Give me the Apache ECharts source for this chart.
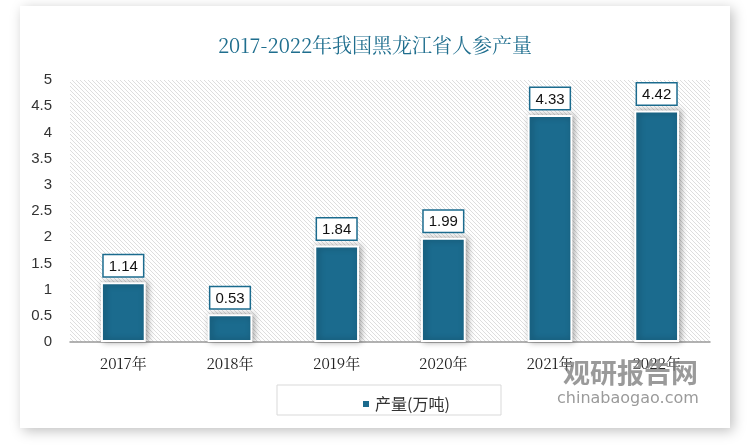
<!DOCTYPE html>
<html><head><meta charset="utf-8">
<script src="https://cdn.jsdelivr.net/npm/echarts@6/dist/echarts.min.js"></script>
<style>html,body{margin:0;padding:0;background:#fff}#c{width:750px;height:445px}</style>
</head><body><div id="c"></div>
<script>
var categories = ['2017年','2018年','2019年','2020年','2021年','2022年'];
var values = [1.14, 0.53, 1.84, 1.99, 4.33, 4.42];
var seriesName = '产量(万吨)';
var titleText = '2017-2022年我国黑龙江省人参产量';

var pc = document.createElement('canvas');
pc.width = 4; pc.height = 4;
var ctx = pc.getContext('2d');
ctx.fillStyle = '#ffffff'; ctx.fillRect(0,0,4,4);
ctx.strokeStyle = '#dedede'; ctx.lineWidth = 1;
ctx.beginPath();
ctx.moveTo(0,0); ctx.lineTo(4,4);
ctx.moveTo(-2,2); ctx.lineTo(2,6);
ctx.moveTo(2,-2); ctx.lineTo(6,2);
ctx.stroke();

var chart = echarts.init(document.getElementById('c'));
chart.setOption({
  animation: false,
  backgroundColor: '#fff',
  graphic: [
    {type:'rect', z:-10, shape:{x:20,y:6,width:710,height:422}, style:{fill:'#fff', shadowBlur:12, shadowColor:'rgba(0,0,0,0.25)', shadowOffsetX:3, shadowOffsetY:3}},
    {type:'rect', z:-5, shape:{x:277,y:385,width:224,height:30}, style:{fill:'#fff', stroke:'#d9d9d9', lineWidth:1}},
    {type:'text', z:5, left:563, top:359, style:{text:'观研报告网', fill:'rgba(120,120,120,0.75)', font:'bold 27px "Noto Sans CJK SC"'}},
    {type:'text', z:5, left:557, top:391, style:{text:'chinabaogao.com', fill:'rgba(120,120,120,0.75)', font:'16px "DejaVu Sans"'}}
  ],
  title: {
    text: titleText, left: 'center', top: 30,
    textStyle: {color:'#1F6E8E', fontSize:20, fontWeight:'normal', fontFamily:'"Noto Serif CJK SC","DejaVu Serif",serif'}
  },
  legend: {
    data: [seriesName], top: 391, left: 356, itemWidth: 8, itemHeight: 8,
    icon: 'rect', itemGap: 4,
    textStyle: {fontSize:16, color:'#333', fontFamily:'"Noto Sans CJK SC"'}
  },
  grid: {left:70, right:40, top:80, bottom:103, show:true, borderWidth:0,
    backgroundColor: {image: pc, repeat: 'repeat'}},
  xAxis: {
    type:'category', data: categories,
    axisLine:{lineStyle:{color:'#999', width:1.5}}, axisTick:{show:false},
    axisLabel:{color:'#222', fontSize:15, margin:14, fontFamily:'"Noto Serif CJK SC","DejaVu Serif",serif'}
  },
  yAxis: {
    type:'value', min:0, max:5, interval:0.5,
    splitLine:{show:false}, axisLine:{show:false}, axisTick:{show:false},
    axisLabel:{color:'#333', fontSize:15, margin:18, fontFamily:'"Liberation Sans","Noto Sans"'}
  },
  series: [{
    name: seriesName, type:'bar', data: values, barWidth:'42%',
    itemStyle:{color:'#1B6B8E', borderColor:'#fff', borderWidth:2, shadowBlur:6, shadowColor:'rgba(0,0,0,0.35)', shadowOffsetX:2, shadowOffsetY:0},
    label:{show:true, position:'top', distance:6, color:'#111', fontSize:15,
      fontFamily:'"Liberation Sans","Noto Sans"',
      backgroundColor:'#fff', borderColor:'#1B6B8E', borderWidth:1.5,
      padding:[4,5,2,5]}
  }]
});
</script></body></html>
